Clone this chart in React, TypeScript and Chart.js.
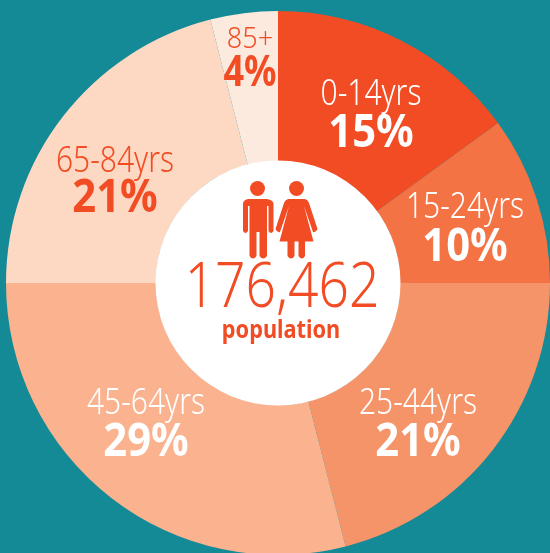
import React, { useEffect, useRef } from "react";
import { Chart, registerables } from "chart.js";

Chart.register(...registerables);

const categories = ["0-14yrs", "15-24yrs", "25-44yrs", "45-64yrs", "65-84yrs", "85+"];
const percentValues = [15, 10, 21, 29, 21, 4];
const sliceColors = ["#f24c24", "#f47345", "#f69469", "#fab28f", "#fdd8c2", "#fdeadf"];
const labelColors = ["#ffffff", "#ffffff", "#ffffff", "#ffffff", "#f24c24", "#f24c24"];
const populationText = "176,462";
const populationLabel = "population";

const ORANGE = "#f24c24";
// x, category baseline, percent baseline, category font px, category x-scale, percent font px, percent x-scale
const labelPos = [
  [371, 105, 147, 37, 0.81, 47, 0.89],
  [465, 218, 261, 37, 0.81, 47, 0.89],
  [418, 414, 456, 37, 0.81, 47, 0.89],
  [146, 414, 456, 37, 0.81, 47, 0.89],
  [115, 172, 212, 37, 0.81, 47, 0.89],
  [250, 48, 86, 30, 0.9, 43, 0.84],
];

function drawText(
  ctx: CanvasRenderingContext2D,
  text: string,
  x: number,
  y: number,
  font: string,
  sx: number,
  color: string
) {
  ctx.save();
  ctx.translate(x, y);
  ctx.scale(sx, 1);
  ctx.font = font;
  ctx.fillStyle = color;
  ctx.textAlign = "center";
  ctx.textBaseline = "alphabetic";
  ctx.fillText(text, 0, 0);
  ctx.restore();
}

function drawMan(ctx: CanvasRenderingContext2D) {
  const c = 257.5;
  ctx.beginPath();
  ctx.arc(c, 188.5, 7.5, 0, Math.PI * 2);
  ctx.fill();
  ctx.beginPath();
  ctx.moveTo(243, 204);
  ctx.quadraticCurveTo(243, 200, 248, 199);
  ctx.lineTo(267, 199);
  ctx.quadraticCurveTo(273.5, 200, 273.5, 204);
  ctx.lineTo(273.5, 231);
  ctx.quadraticCurveTo(271, 235, 268.5, 231);
  ctx.lineTo(268.5, 206);
  ctx.lineTo(267, 206);
  ctx.lineTo(267, 256);
  ctx.quadraticCurveTo(263, 261, 259.5, 256);
  ctx.lineTo(259.5, 232);
  ctx.lineTo(256.5, 232);
  ctx.lineTo(256.5, 256);
  ctx.quadraticCurveTo(253, 261, 249.5, 256);
  ctx.lineTo(249.5, 206);
  ctx.lineTo(248, 206);
  ctx.lineTo(248, 231);
  ctx.quadraticCurveTo(245.5, 235, 243, 231);
  ctx.closePath();
  ctx.fill();
}

function drawWoman(ctx: CanvasRenderingContext2D) {
  const c = 296.5;
  ctx.beginPath();
  ctx.arc(c, 188.5, 7.5, 0, Math.PI * 2);
  ctx.fill();
  ctx.beginPath();
  ctx.moveTo(288, 199);
  ctx.lineTo(305, 199);
  ctx.quadraticCurveTo(308, 200, 309, 203);
  ctx.lineTo(317.5, 229);
  ctx.quadraticCurveTo(316, 233, 313, 232);
  ctx.lineTo(304, 206);
  ctx.lineTo(313.5, 241.5);
  ctx.lineTo(305, 241.5);
  ctx.lineTo(305, 256);
  ctx.quadraticCurveTo(302, 261, 298.5, 256);
  ctx.lineTo(298.5, 241.5);
  ctx.lineTo(294.5, 241.5);
  ctx.lineTo(294.5, 256);
  ctx.quadraticCurveTo(291, 261, 287.5, 256);
  ctx.lineTo(287.5, 241.5);
  ctx.lineTo(279.5, 241.5);
  ctx.lineTo(289, 206);
  ctx.lineTo(280, 232);
  ctx.quadraticCurveTo(277, 233, 275.5, 229);
  ctx.lineTo(284, 203);
  ctx.quadraticCurveTo(285, 200, 288, 199);
  ctx.closePath();
  ctx.fill();
}

const overlayPlugin = {
  id: "overlay",
  afterDraw(chart: any) {
    const ctx: CanvasRenderingContext2D = chart.ctx;
    const arc = chart.getDatasetMeta(0).data[0];
    ctx.save();
    ctx.fillStyle = "#ffffff";
    ctx.beginPath();
    ctx.arc(arc.x, arc.y, arc.innerRadius + 0.5, 0, Math.PI * 2);
    ctx.fill();
    ctx.fillStyle = ORANGE;
    drawMan(ctx);
    drawWoman(ctx);
    drawText(ctx, populationText, 282, 307, '300 62px "Noto Sans"', 0.86, ORANGE);
    drawText(ctx, populationLabel, 281, 338, 'bold 25px "Noto Sans"', 0.87, ORANGE);
    categories.forEach((cat, i) => {
      const [x, y1, y2, f1, s1, f2, s2] = labelPos[i];
      drawText(ctx, cat, x, y1, `300 ${f1}px "Noto Sans"`, s1, labelColors[i]);
      drawText(ctx, percentValues[i] + "%", x, y2, `bold ${f2}px "Noto Sans"`, s2, labelColors[i]);
    });
    ctx.restore();
  },
};

export default function App() {
  const ref = useRef<HTMLCanvasElement>(null);
  useEffect(() => {
    if (!ref.current) return;
    const chart = new Chart(ref.current, {
      type: "doughnut",
      data: {
        labels: categories,
        datasets: [
          {
            data: percentValues,
            backgroundColor: sliceColors,
            borderWidth: 0,
          },
        ],
      },
      options: {
        animation: false,
        responsive: false,
        cutout: 122,
        layout: { padding: { left: 6, top: 11, right: 0, bottom: 5 } },
        plugins: { legend: { display: false }, tooltip: { enabled: false } },
      },
      plugins: [overlayPlugin],
    });
    return () => chart.destroy();
  }, []);
  return (
    <div
      style={{
        position: "fixed",
        left: 0,
        top: 0,
        width: 550,
        height: 553,
        overflow: "hidden",
        background: "#138a96",
      }}
    >
      <canvas ref={ref} width={550} height={560} style={{ display: "block" }} />
    </div>
  );
}
